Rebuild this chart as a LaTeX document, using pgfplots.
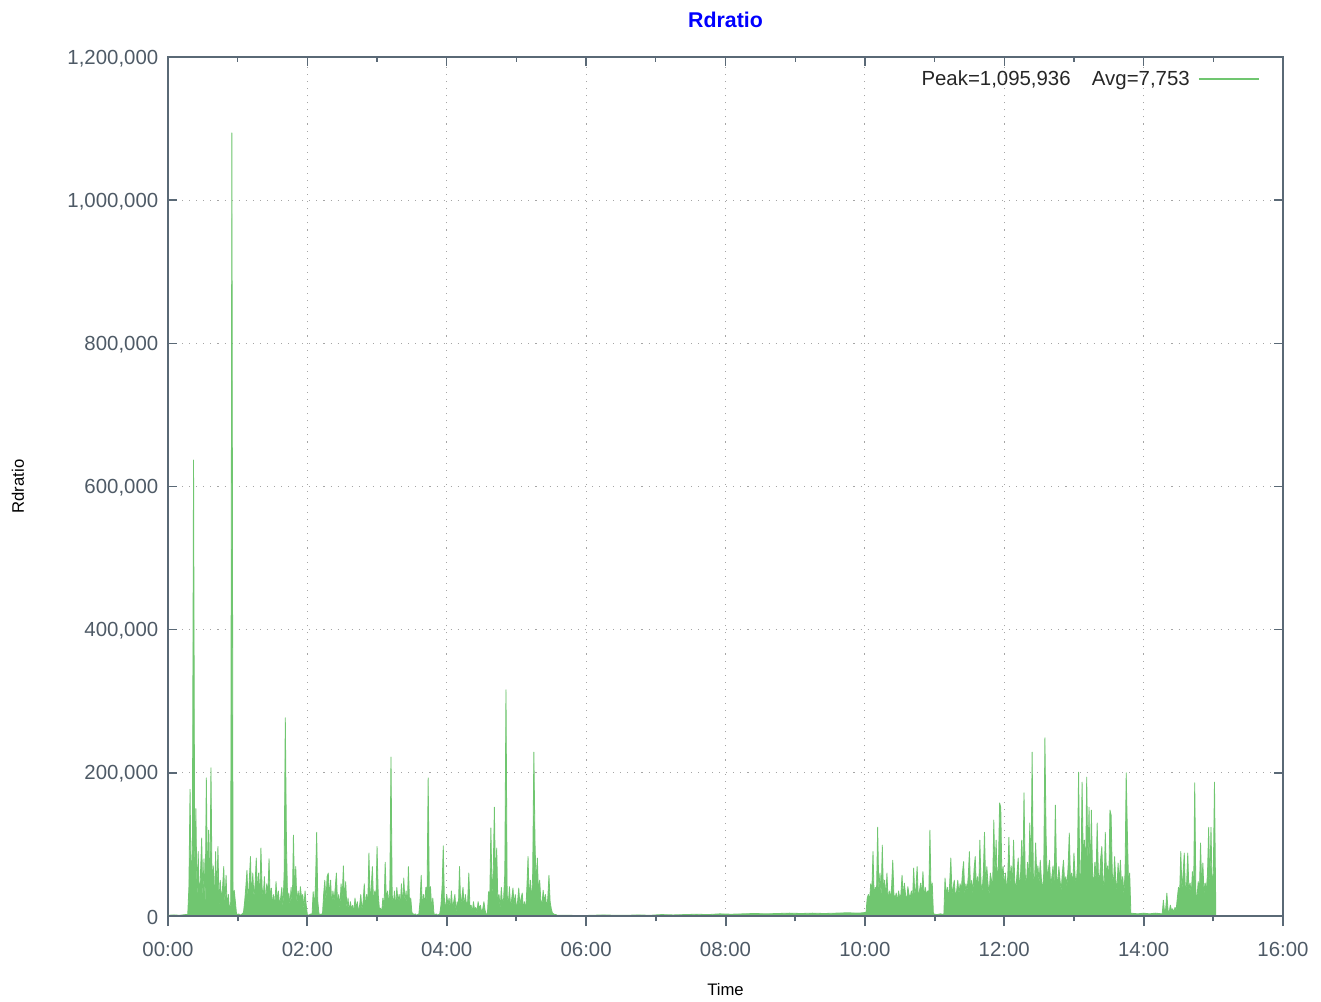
\documentclass[border=0pt]{standalone}
\usepackage{fontspec}
\setmainfont{Liberation Sans}
\usepackage{pgfplots}
\pgfplotsset{compat=1.18}
\definecolor{rdgreen}{RGB}{112,198,112}
\definecolor{axiscol}{RGB}{90,105,118}
\definecolor{tickcol}{RGB}{78,90,102}
\definecolor{gridcol}{RGB}{165,165,165}
\begin{document}
\begin{tikzpicture}
\begin{axis}[
  name=main,
  scale only axis, width=836.25pt, height=644.25pt,
  xmin=0, xmax=960, ymin=0, ymax=1200,
  xtick={0,120,...,960},
  xticklabels={00:00,02:00,04:00,06:00,08:00,10:00,12:00,14:00,16:00},
  minor xtick={60,180,...,900},
  ytick={0,200,...,1200},
  yticklabels={0,{200,000},{400,000},{600,000},{800,000},{1,000,000},{1,200,000}},
  xtick pos=right, xticklabel pos=left,
  ytick pos=both, yticklabel pos=left,
  tick align=inside,
  major tick length=7pt, minor tick length=4pt,
  every tick/.style={axiscol, line width=1pt},
  axis line style={axiscol, line width=1.5pt},
  grid=major,
  major grid style={gridcol, line width=0.8pt, dash pattern=on 0.8pt off 4.5pt},
  tick label style={font=\fontsize{15.3}{18}\selectfont, text=tickcol},
  xticklabel style={yshift=-16pt},
  yticklabel style={xshift=-3.8pt, yshift=-1pt},
  title={Rdratio},
  title style={font=\fontsize{16}{19}\selectfont\bfseries, text=blue, at={(axis description cs:0.5,1.0335)}, anchor=center},
  xlabel={Time},
  xlabel style={font=\fontsize{12.5}{15}\selectfont, at={(axis description cs:0.5,-0.0861)}, anchor=center},
  ylabel={Rdratio},
  ylabel style={font=\fontsize{12.5}{15}\selectfont, at={(axis description cs:-0.1345,0.5)}, anchor=center},
  legend plot pos=right,
  legend style={draw=none, fill=none, at={(axis description cs:0.9794,0.9745)}, anchor=east, inner sep=0pt, font=\fontsize{15.3}{18}\selectfont, text=black!85},
  legend image code/.code={\draw[rdgreen, line width=1.5pt] (0pt,0pt) -- (45pt,0pt);},
  clip=true,
]
\addplot[draw=rdgreen, fill=rdgreen, line width=0.6pt, line join=round] coordinates {
(0,1)(5,1.5)(10,1)(15,2)
(17,2)(18,40)(19,177)(20,30)(21,100)(22,637)(23,60)(24,150)(25,20)(26,90)(27,15)(28,60)(29,109)(30,25)(31,80)(32,10)(33,193)(34,40)(35,120)(36,20)(37,207)(38,30)(39,70)(40,15)(41,90)(42,25)(43,97)(44,10)(45,50)(46,20)(47,40)(48,69)(49,15)(50,57)(51,10)(52,30)(53,5)(54,20)(55,1094)(56,10)(57,36)(58,20)(59,3)(60,2)(61,3)(62,1)(63,2)(64,3)(65,5)(66,20)(67,40)(68,64)(69,15)(70,50)(71,83)(72,20)(73,60)(74,25)(75,45)(76,81)(77,30)(78,60)(79,20)(80,95)(81,40)(82,25)(83,55)(84,15)(85,45)(86,30)(87,80)(88,20)(89,39)(90,15)(91,30)(92,10)(93,48)(94,20)(95,35)(96,15)(97,25)(98,40)(99,10)(100,60)(101,277)(102,99)(103,20)(104,32)(105,15)(106,40)(107,10)(108,113)(109,30)(110,69)(111,15)(112,35)(113,20)(114,41)(115,25)(116,30)(117,10)(118,35)(119,15)(120,2)(121,1)(122,2)(123,3)(124,1)(125,34)(126,10)(127,45)(128,117)(129,20)(130,3)(131,2)(132,3)(133,2)(134,30)(135,50)(136,20)(137,55)(138,60)(139,25)(140,50)(141,15)(142,35)(143,20)(144,40)(145,60)(146,15)(147,30)(148,10)(149,45)(150,25)(151,70)(152,20)(153,48)(154,10)(155,25)(156,5)(157,20)(158,10)(159,15)(160,5)(161,25)(162,10)(163,20)(164,5)(165,15)(166,30)(167,8)(168,20)(169,45)(170,10)(171,30)(172,15)(173,88)(174,20)(175,40)(176,69)(177,15)(178,35)(179,20)(180,97)(181,30)(182,10)(183,11)(184,5)(185,25)(186,10)(187,75)(188,20)(189,35)(190,15)(191,40)(192,222)(193,30)(194,15)(195,35)(196,10)(197,40)(198,20)(199,30)(200,15)(201,45)(202,10)(203,53)(204,20)(205,35)(206,10)(207,69)(208,15)(209,25)(210,5)(211,3)(212,2)(213,3)(214,1)(215,2)(216,3)(217,20)(218,57)(219,10)(220,30)(221,15)(222,40)(223,20)(224,193)(225,30)(226,41)(227,10)(228,25)(229,3)(230,2)(231,3)(232,1)(233,2)(234,3)(235,15)(236,40)(237,98)(238,20)(239,10)(240,30)(241,15)(242,25)(243,8)(244,35)(245,10)(246,20)(247,30)(248,5)(249,20)(250,10)(251,69)(252,15)(253,25)(254,40)(255,10)(256,30)(257,15)(258,20)(259,60)(260,10)(261,15)(262,5)(263,20)(264,8)(265,12)(266,5)(267,20)(268,10)(269,15)(270,5)(271,10)(272,20)(273,8)(274,3)(275,2)(276,34)(277,20)(278,123)(279,30)(280,60)(281,152)(282,40)(283,95)(284,20)(285,30)(286,10)(287,40)(288,15)(289,25)(290,60)(291,316)(292,30)(293,15)(294,41)(295,10)(296,25)(297,39)(298,15)(299,30)(300,10)(301,20)(302,39)(303,15)(304,25)(305,32)(306,10)(307,20)(308,5)(309,40)(310,83)(311,20)(312,50)(313,15)(314,60)(315,229)(316,102)(317,40)(318,81)(319,30)(320,50)(321,22)(322,15)(323,36)(324,20)(325,30)(326,10)(327,25)(328,57)(329,20)(330,10)(331,4)(332,3)(333,2)(334,2)(335,1)
(345,1)(355,0.5)(365,1)(375,1.5)(385,1)(395,1)(405,1.5)(415,1)(425,2)(435,1.5)(445,2)(455,2.5)(465,2)(475,3)(485,2.5)(495,3)(505,3.5)(515,3)(525,3.5)(535,4)(545,3.5)(555,4)(565,3.5)(575,4)(585,4.5)(595,4)(601,5)
(602,25)(603,30)(604,20)(605,45)(606,35)(607,90)(608,25)(609,40)(610,30)(611,124)(612,35)(613,60)(614,25)(615,99)(616,30)(617,50)(618,25)(619,60)(620,20)(621,35)(622,25)(623,40)(624,78)(625,30)(626,25)(627,32)(628,20)(629,35)(630,25)(631,30)(632,57)(633,25)(634,46)(635,30)(636,20)(637,41)(638,30)(639,25)(640,35)(641,20)(642,67)(643,30)(644,40)(645,69)(646,25)(647,35)(648,46)(649,30)(650,62)(651,25)(652,40)(653,30)(654,35)(655,25)(656,120)(657,30)(658,46)(659,3)
(662,2)(665,3)(668,2)
(669,53)(670,30)(671,40)(672,25)(673,45)(674,81)(675,30)(676,40)(677,50)(678,25)(679,35)(680,50)(681,30)(682,45)(683,35)(684,60)(685,76)(686,30)(687,45)(688,35)(689,55)(690,90)(691,35)(692,50)(693,30)(694,65)(695,83)(696,40)(697,55)(698,30)(699,106)(700,45)(701,35)(702,60)(703,117)(704,40)(705,69)(706,45)(707,30)(708,60)(709,50)(710,40)(711,134)(712,55)(713,106)(714,45)(715,70)(716,158)(717,152)(718,50)(719,69)(720,40)(721,60)(722,35)(723,55)(724,110)(725,45)(726,70)(727,40)(728,106)(729,50)(730,35)(731,60)(732,81)(733,40)(734,55)(735,106)(736,45)(737,172)(738,60)(739,40)(740,75)(741,50)(742,130)(743,45)(744,229)(745,60)(746,40)(747,102)(748,55)(749,70)(750,45)(751,78)(752,50)(753,35)(754,60)(755,249)(756,113)(757,50)(758,65)(759,78)(760,40)(761,55)(762,70)(763,45)(764,155)(765,60)(766,40)(767,69)(768,50)(769,35)(770,60)(771,78)(772,45)(773,55)(774,40)(775,70)(776,116)(777,50)(778,60)(779,40)(780,88)(781,55)(782,45)(783,70)(784,201)(785,60)(786,50)(787,187)(788,80)(789,106)(790,55)(791,194)(792,70)(793,152)(794,45)(795,148)(796,60)(797,40)(798,75)(799,50)(800,130)(801,60)(802,45)(803,80)(804,97)(805,50)(806,40)(807,117)(808,55)(809,70)(810,45)(811,148)(812,141)(813,60)(814,40)(815,83)(816,50)(817,35)(818,74)(819,45)(820,78)(821,40)(822,55)(823,30)(824,60)(825,200)(826,116)(827,45)(828,60)(829,4)
(835,3)(840,4)(845,3)(850,4)(856,3)
(857,22)(858,5)(859,10)(860,32)(861,8)(862,5)(863,15)(864,8)(865,10)(866,5)(867,12)(868,8)(869,25)(870,40)(871,30)(872,90)(873,35)(874,60)(875,88)(876,30)(877,45)(878,88)(879,35)(880,46)(881,30)(882,62)(883,25)(884,186)(885,30)(886,27)(887,48)(888,30)(889,102)(890,40)(891,74)(892,30)(893,46)(894,35)(895,60)(896,124)(897,40)(898,124)(899,35)(900,60)(901,187)(902,27)
} \closedcycle;
\addlegendentry{Peak=1,095,936\hspace{16pt}Avg=7,753\kern4pt}
\end{axis}
\begin{axis}[
  scale only axis, width=836.25pt, height=644.25pt,
  xmin=0, xmax=960, ymin=0, ymax=1200,
  axis x line*=bottom, hide y axis,
  x axis line style={-, axiscol, line width=1.5pt},
  xtick={0,120,...,960}, xticklabels={},
  minor xtick={60,180,...,900},
  tick align=outside,
  major tick length=7.5pt, minor tick length=4pt,
  every tick/.style={axiscol, line width=1.5pt},
]
\addplot[draw=none] coordinates {(0,0)};
\end{axis}
\pgfresetboundingbox
\path[use as bounding box] (main.south west) ++(-126pt,-63.75pt) rectangle ++(990.75pt,750.75pt);
\end{tikzpicture}
\end{document}
